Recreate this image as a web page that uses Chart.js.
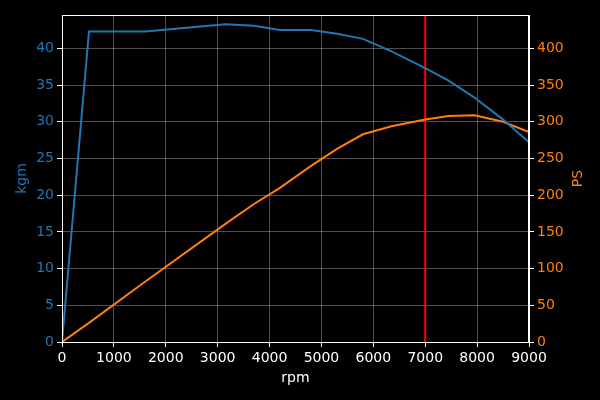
<!DOCTYPE html>
<html>
<head>
<meta charset="utf-8">
<script src="https://cdn.jsdelivr.net/npm/chart.js@4"></script>
<style>
  html, body { margin: 0; padding: 0; background: #000; }
  #wrap { width: 600px; height: 400px; }
</style>
</head>
<body>
<div id="wrap"><canvas id="engineChart" width="600" height="400"></canvas></div>
<script>
// data
const rpm = [0, 520, 1600, 3150, 3700, 4200, 4800, 5300, 5800, 6350, 7000, 7450, 7950, 8500, 9000];
const torqueKgm = [0, 42.3, 42.3, 43.3, 43.1, 42.5, 42.5, 42.0, 41.3, 39.6, 37.3, 35.6, 33.3, 30.3, 27.2];
const powerPs = [0, 26, 82, 161, 188, 210, 240, 263, 283, 294, 303, 308, 309, 300, 286];
const redlineRpm = 7000;

const blue = '#1f77b4';
const orange = '#ff7f0e';
const font = { family: 'DejaVu Sans', size: 14 };

// background, frame around the plot area, and the right axis title (reads bottom-to-top)
const framePlugin = {
    id: 'frame',
    beforeDraw(chart) {
        const c = chart.ctx;
        c.save();
        c.fillStyle = '#000';
        c.fillRect(0, 0, chart.width, chart.height);
        c.restore();
    },
    afterDraw(chart) {
        const a = chart.chartArea;
        const c = chart.ctx;
        c.save();
        c.strokeStyle = '#fff';
        c.lineWidth = 1;
        c.strokeRect(a.left + 0.5, a.top + 0.5, a.right - a.left - 1, a.bottom - a.top);
        c.translate(578, (a.top + a.bottom) / 2);
        c.rotate(-Math.PI / 2);
        c.fillStyle = orange;
        c.font = '14px "DejaVu Sans"';
        c.textAlign = 'center';
        c.textBaseline = 'middle';
        c.fillText('PS', 0, 0);
        c.restore();
    }
};

const onlySteps = (step) => (scale) => {
    scale.ticks = scale.ticks.filter(t => Math.abs(t.value / step - Math.round(t.value / step)) < 1e-6);
};
const plain = (v) => String(v);

const ctx = document.getElementById('engineChart').getContext('2d');
new Chart(ctx, {
    type: 'line',
    data: {
        datasets: [
            {
                label: 'kgm',
                data: rpm.map((r, i) => ({ x: r, y: torqueKgm[i] })),
                borderColor: blue,
                borderWidth: 2,
                pointRadius: 0,
                tension: 0,
                yAxisID: 'y'
            },
            {
                label: 'PS',
                data: rpm.map((r, i) => ({ x: r, y: powerPs[i] })),
                borderColor: orange,
                borderWidth: 2,
                pointRadius: 0,
                tension: 0,
                yAxisID: 'y1'
            },
            {
                label: 'redline',
                data: [{ x: redlineRpm, y: 0 }, { x: redlineRpm, y: 44.55 }],
                borderColor: '#ff0000',
                borderWidth: 2,
                pointRadius: 0,
                yAxisID: 'y'
            }
        ]
    },
    options: {
        responsive: false,
        animation: false,
        layout: { padding: { top: 15, left: 0, right: 0, bottom: 0 } },
        plugins: { legend: { display: false }, tooltip: { enabled: false } },
        scales: {
            x: {
                type: 'linear',
                min: 0,
                max: 9000,
                afterBuildTicks: onlySteps(1000),
                afterFit: (s) => { s.height = 58; },
                ticks: { stepSize: 1000, color: '#fff', font, padding: 3, maxRotation: 0, callback: plain },
                grid: { color: 'rgba(255,255,255,0.3)', tickColor: '#fff', tickLength: 5 },
                border: { color: '#fff' },
                title: { display: true, text: 'rpm', color: '#fff', font, padding: { top: 2, bottom: 13 } }
            },
            y: {
                position: 'left',
                min: 0,
                max: 44.55,
                afterBuildTicks: onlySteps(5),
                afterFit: (s) => { s.width = 62; },
                ticks: { stepSize: 5, color: blue, font, padding: 3, callback: plain },
                grid: { color: 'rgba(255,255,255,0.3)', tickColor: '#fff', tickLength: 5 },
                border: { color: '#fff' },
                title: { display: true, text: 'kgm', color: blue, font, padding: { top: 14, bottom: 4 } }
            },
            y1: {
                position: 'right',
                min: 0,
                max: 445.5,
                afterBuildTicks: onlySteps(50),
                afterFit: (s) => { s.width = 71; },
                ticks: { stepSize: 50, color: orange, font, padding: 3, callback: plain },
                grid: { drawOnChartArea: false, tickColor: '#fff', tickLength: 5 },
                border: { color: '#fff' }
            }
        }
    },
    plugins: [framePlugin]
});
</script>
</body>
</html>
